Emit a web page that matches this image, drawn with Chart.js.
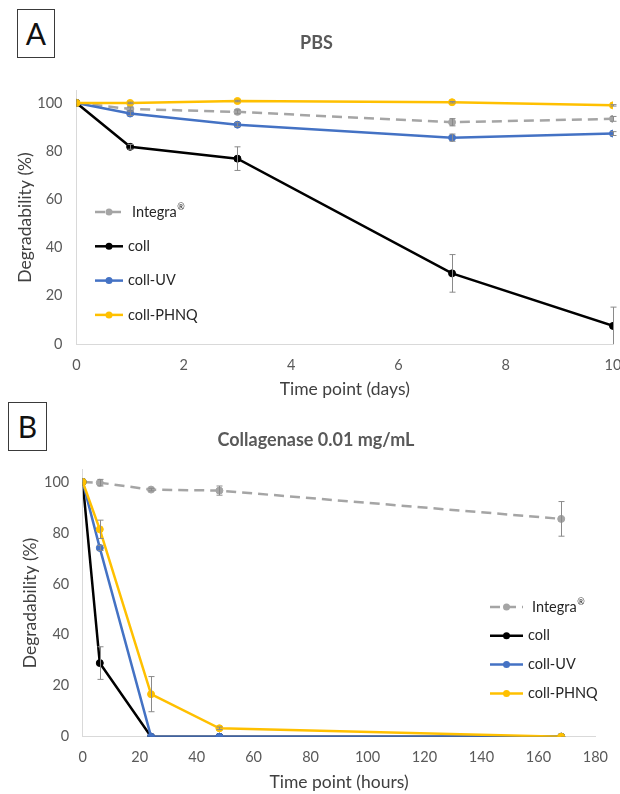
<!DOCTYPE html>
<html>
<head>
<meta charset="utf-8">
<script src="https://cdn.jsdelivr.net/npm/chart.js@4.4.1/dist/chart.umd.min.js"></script>
<style>
  html, body { margin: 0; padding: 0; background: #fff; overflow: hidden; }
  #page { position: relative; width: 620px; height: 794px; overflow: hidden; font-family: Lato, "Open Sans", sans-serif; }
  #chartA { position: absolute; left: 0; top: 0; }
  #chartB { position: absolute; left: 0; top: 400px; }
  .panel {
    position: absolute; box-sizing: border-box; border: 1.5px solid #3a3a3a;
    font-size: 30px; color: #111; text-align: center; background: #fff;
  }
  #labelA { left: 17px; top: 9px; width: 38px; height: 49px; line-height: 46px; }
  #labelB { left: 8px; top: 402px; width: 39px; height: 49px; line-height: 46px; }
</style>
</head>
<body>
<div id="page">
  <canvas id="chartA" width="640" height="400" style="width:640px;height:400px"></canvas>
  <canvas id="chartB" width="620" height="394" style="width:620px;height:394px"></canvas>
  <div class="panel" id="labelA">A</div>
  <div class="panel" id="labelB">B</div>
</div>
<script>
// Panel A - PBS (days)
const daysA = [0, 1, 3, 7, 10];
const integraA = [100, 97.5, 96.3, 92.0, 93.4];
const integraErrA = [0, 0.8, 0.8, 1.5, 1.0];
const collA = [100, 81.8, 76.9, 29.3, 7.5];
const collErrA = [0, 1.0, 4.9, 7.8, 7.8];
const uvA = [100, 95.6, 91.0, 85.6, 87.3];
const uvErrA = [0, 0.8, 0.8, 1.5, 0.8];
const phnqA = [100, 100, 100.8, 100.3, 99.0];
const phnqErrA = [0, 0.3, 0.3, 0.3, 0.3];

// Panel B - Collagenase (hours)
const hoursB = [0, 6, 24, 48, 168];
const integraB = [100, 99.7, 97.0, 96.6, 85.5];
const integraErrB = [0, 1.3, 0.5, 1.8, 6.8];
const collB = [100, 28.9, 0, 0, 0];
const collErrB = [0, 6.4, 0, 0, 0];
const uvB = [100, 74.1, 0, 0, 0];
const uvErrB = [0, 1.0, 0, 0, 0];
const phnqB = [100, 81.4, 16.7, 3.3, 0];
const phnqErrB = [0, 3.6, 6.9, 0.5, 0];

const seriesNames = ['Integra®', 'coll', 'coll-UV', 'coll-PHNQ'];
const seriesColors = ['#a5a5a5', '#000000', '#4472c4', '#ffc000'];
const yTicks = [0, 20, 40, 60, 80, 100];

const FONT = 'Lato, "Open Sans", sans-serif';

function toPoints(xs, ys) {
    return xs.map((x, i) => ({ x: x, y: ys[i] }));
}

function makeDatasets(xs, values, errors) {
    return values.map((ys, i) => ({
        label: seriesNames[i],
        data: toPoints(xs, ys),
        errors: errors[i],
        borderColor: seriesColors[i],
        backgroundColor: seriesColors[i],
        pointBackgroundColor: seriesColors[i],
        pointBorderColor: seriesColors[i],
        borderWidth: 2.5,
        borderDash: i === 0 ? [10, 6] : [],
        pointRadius: 3.5,
        pointBorderWidth: 1,
        tension: 0,
        order: 3 - i
    }));
}

// vertical error bars, drawn through the chart scales
const errorBars = {
    id: 'errorBars',
    afterDatasetsDraw(chart) {
        const { ctx, chartArea, scales: { x, y } } = chart;
        ctx.save();
        ctx.beginPath();
        ctx.rect(chartArea.left, chartArea.top - 20, chartArea.right - chartArea.left + 10, chartArea.bottom - chartArea.top + 20);
        ctx.clip();
        ctx.strokeStyle = '#8a8a8a';
        ctx.lineWidth = 1;
        chart.data.datasets.forEach(ds => {
            ds.data.forEach((p, i) => {
                const e = ds.errors[i];
                if (!e) return;
                const px = Math.round(x.getPixelForValue(p.x)) + 0.5;
                const top = y.getPixelForValue(p.y + e);
                const bot = y.getPixelForValue(Math.max(p.y - e, 0));
                ctx.beginPath();
                ctx.moveTo(px, top);
                ctx.lineTo(px, bot);
                ctx.moveTo(px - 3, top);
                ctx.lineTo(px + 3, top);
                if (p.y - e > 0) {
                    ctx.moveTo(px - 3, bot);
                    ctx.lineTo(px + 3, bot);
                }
                ctx.stroke();
            });
        });
        ctx.restore();
    }
};

// legend drawn inside the plot, Excel style
const insideLegend = {
    id: 'insideLegend',
    afterDraw(chart, args, opts) {
        const ctx = chart.ctx;
        ctx.save();
        chart.data.datasets.forEach((ds, i) => {
            const y = opts.y + i * opts.gap;
            ctx.strokeStyle = ds.borderColor;
            ctx.lineWidth = 2.5;
            ctx.setLineDash(ds.borderDash);
            ctx.beginPath();
            ctx.moveTo(opts.x, y);
            ctx.lineTo(opts.x + opts.len, y);
            ctx.stroke();
            ctx.setLineDash([]);
            ctx.fillStyle = ds.borderColor;
            ctx.beginPath();
            ctx.arc(opts.x + opts.len / 2, y, 3.5, 0, Math.PI * 2);
            ctx.fill();

            ctx.fillStyle = '#262626';
            ctx.textBaseline = 'middle';
            ctx.textAlign = 'left';
            ctx.font = '14.5px ' + FONT;
            const tx = opts.x + opts.len + (i === 0 ? 9 : 5);
            let label = ds.label;
            if (label.endsWith('®')) {
                label = label.slice(0, -1);
                ctx.fillText(label, tx, y);
                const w = ctx.measureText(label).width;
                ctx.font = '9px ' + FONT;
                ctx.fillText('®', tx + w + 0.5, y - 5);
            } else {
                ctx.fillText(label, tx, y);
            }
        });
        ctx.restore();
    }
};

function makeOptions(cfg) {
    return {
        responsive: false,
        animation: false,
        layout: { padding: { left: cfg.padLeft, right: cfg.padRight, top: 0, bottom: 0 } },
        plugins: {
            legend: { display: false },
            tooltip: { enabled: false },
            title: {
                display: true,
                text: cfg.title,
                color: '#595959',
                font: { family: FONT, size: 18, weight: 'bold', lineHeight: 1.2 },
                padding: { top: cfg.titleTop, bottom: cfg.titleBottom }
            },
            insideLegend: cfg.legend
        },
        scales: {
            x: {
                type: 'linear',
                min: 0,
                max: cfg.xMax,
                grid: { display: false, drawTicks: false },
                border: { display: true, color: '#d9d9d9', width: 1 },
                ticks: {
                    stepSize: cfg.xStep,
                    padding: cfg.xTickPad,
                    color: '#595959',
                    maxRotation: 0,
                    font: { family: FONT, size: 14.5 }
                },
                title: {
                    display: true,
                    text: cfg.xTitle,
                    color: '#404040',
                    font: { family: FONT, size: 17.5, lineHeight: 1.2 },
                    padding: { top: 0, bottom: cfg.xTitleBottom }
                },
                afterFit(scale) { scale.height = cfg.xHeight; }
            },
            y: {
                min: 0,
                max: 105,
                grid: { display: false, drawTicks: false },
                border: { display: true, color: '#d9d9d9', width: 1 },
                afterBuildTicks(scale) {
                    scale.ticks = yTicks.map(v => ({ value: v }));
                },
                ticks: {
                    padding: cfg.yTickPad,
                    color: '#595959',
                    font: { family: FONT, size: 14.5 }
                },
                title: {
                    display: true,
                    text: 'Degradability (%)',
                    color: '#404040',
                    font: { family: FONT, size: 17.5, lineHeight: 1.2 },
                    padding: { top: cfg.yTitleTop, bottom: 0 }
                },
                afterFit(scale) { scale.width = cfg.yWidth; }
            }
        }
    };
}

function initializeCharts() {
    new Chart(document.getElementById('chartA'), {
        type: 'line',
        data: {
            datasets: makeDatasets(daysA, [integraA, collA, uvA, phnqA],
                [integraErrA, collErrA, uvErrA, phnqErrA])
        },
        options: makeOptions({
            title: 'PBS', titleTop: 32.3, titleBottom: 37,
            padLeft: 20, padRight: 27, xMax: 10, xStep: 2, xTickPad: 12.5,
            xTitle: 'Time point (days)', xTitleBottom: 0, xHeight: 56,
            yTickPad: 14, yTitleTop: -5, yWidth: 56.5,
            legend: { x: 95, y: 212, gap: 34.3, len: 28 }
        }),
        plugins: [errorBars, insideLegend]
    });

    new Chart(document.getElementById('chartB'), {
        type: 'line',
        data: {
            datasets: makeDatasets(hoursB, [integraB, collB, uvB, phnqB],
                [integraErrB, collErrB, uvErrB, phnqErrB])
        },
        options: makeOptions({
            title: 'Collagenase 0.01 mg/mL', titleTop: 29.3, titleBottom: 18.3,
            padLeft: 30, padRight: 18, xMax: 180, xStep: 20, xTickPad: 12,
            xTitle: 'Time point (hours)', xTitleBottom: 1, xHeight: 57.3,
            yTickPad: 13.5, yTitleTop: -10, yWidth: 52.7,
            legend: { x: 490, y: 207, gap: 28.8, len: 33 }
        }),
        plugins: [errorBars, insideLegend]
    });
}

document.addEventListener('DOMContentLoaded', initializeCharts);
</script>
</body>
</html>
